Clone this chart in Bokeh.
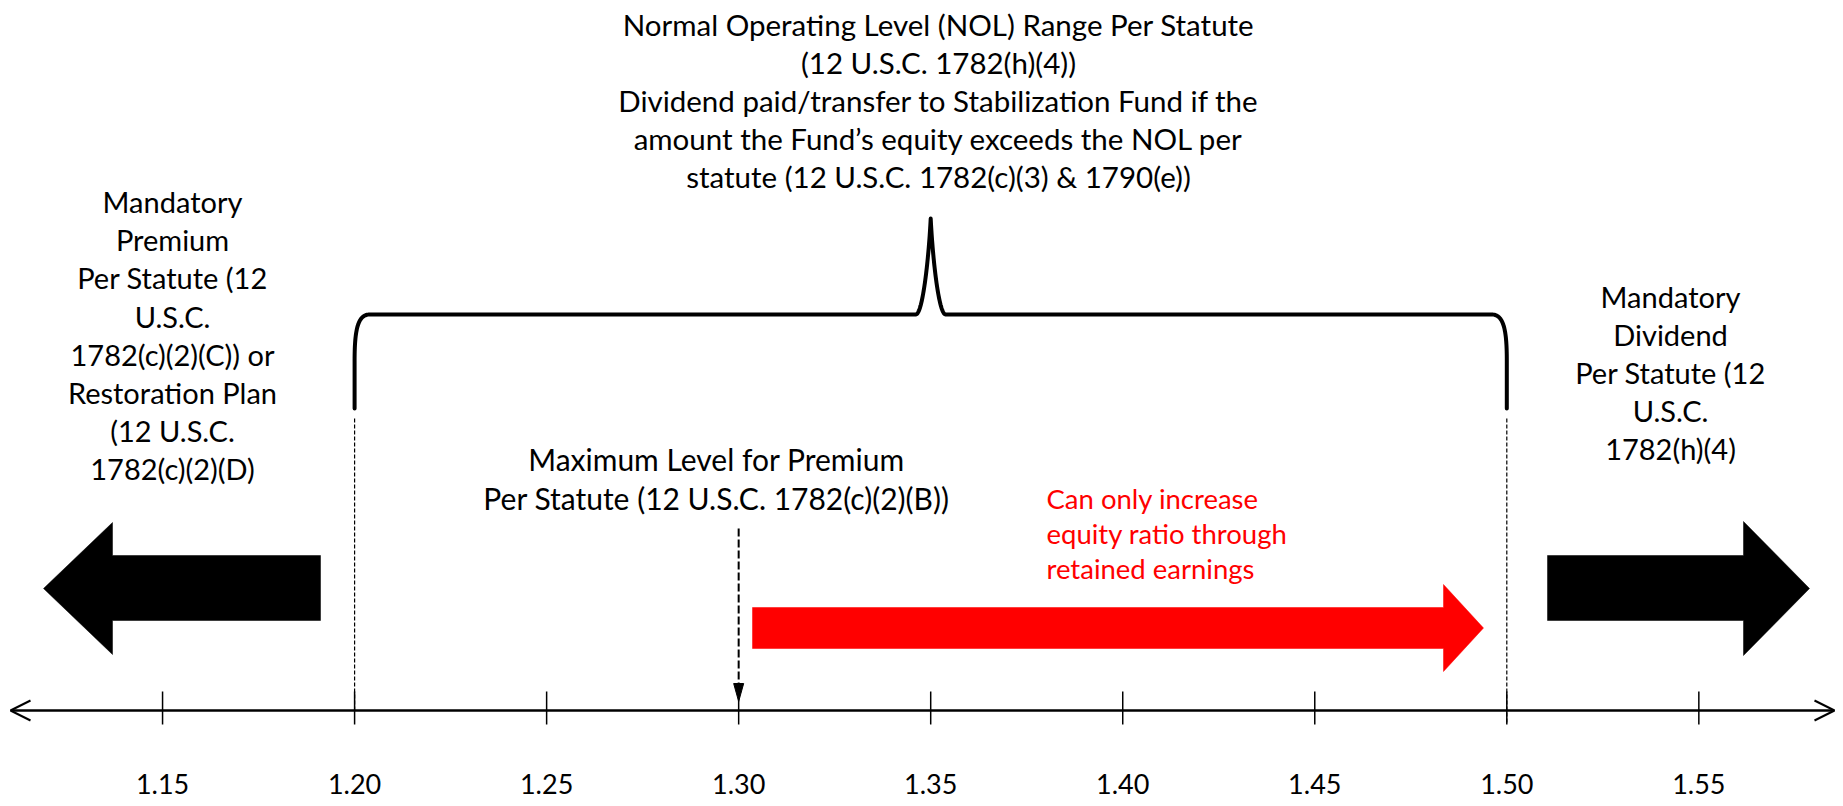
import numpy as np
from bokeh.plotting import figure
from bokeh.models import Range1d
from bokeh.embed import file_html
from bokeh.resources import INLINE
from bokeh.core.properties import value

# ---------------- data ----------------
TICK_VALUES = [1.15, 1.20, 1.25, 1.30, 1.35, 1.40, 1.45, 1.50, 1.55]
TICK_LABELS = ["1.15", "1.20", "1.25", "1.30", "1.35", "1.40", "1.45", "1.50", "1.55"]
NOL_LOW = 1.20
NOL_HIGH = 1.50
MAX_PREMIUM_LEVEL = 1.30

TOP_LINES = [
    "Normal Operating Level (NOL) Range Per Statute",
    "(12 U.S.C. 1782(h)(4))",
    "Dividend paid/transfer to Stabilization Fund if the",
    "amount the Fund\u2019s equity exceeds the NOL per",
    "statute (12 U.S.C. 1782(c)(3) & 1790(e))",
]
LEFT_LINES = [
    "Mandatory", "Premium", "Per Statute (12", "U.S.C.",
    "1782(c)(2)(C)) or", "Restoration Plan", "(12 U.S.C.", "1782(c)(2)(D)",
]
RIGHT_LINES = ["Mandatory", "Dividend", "Per Statute (12", "U.S.C.", "1782(h)(4)"]
MAX_LINES = ["Maximum Level for Premium", "Per Statute (12 U.S.C. 1782(c)(2)(B))"]
RED_LINES = ["Can only increase", "equity ratio through", "retained earnings"]

# ---------------- layout ----------------
W, H = 1843, 800
PX_PER_UNIT = 3840.7                     # horizontal scale (pixels per ratio unit)
X_START = 1.35 - 930.2 / PX_PER_UNIT
X_END = X_START + W / PX_PER_UNIT


def X(px):
    return X_START + px / PX_PER_UNIT


def DX(px):
    return px / PX_PER_UNIT


FONT = value("Lato")

p = figure(width=W, height=H, output_backend="svg", toolbar_location=None,
           x_range=Range1d(X_START, X_END), y_range=Range1d(H, 0),
           min_border=0, outline_line_color=None)
p.axis.visible = False
p.grid.visible = False
p.background_fill_color = "white"
p.border_fill_color = "white"

AXIS_Y = 710

# number line with open arrow heads
p.segment(x0=[X(11)], y0=[AXIS_Y], x1=[X(1833)], y1=[AXIS_Y], line_color="black", line_width=2.5)
p.line(x=[X(30), X(10), X(30)], y=[AXIS_Y - 10, AXIS_Y, AXIS_Y + 10], line_color="black", line_width=2)
p.line(x=[X(1814), X(1834), X(1814)], y=[AXIS_Y - 10, AXIS_Y, AXIS_Y + 10], line_color="black", line_width=2)

# ticks and labels
p.segment(x0=TICK_VALUES, y0=[AXIS_Y - 19] * len(TICK_VALUES), x1=TICK_VALUES,
          y1=[AXIS_Y + 14] * len(TICK_VALUES), line_color="black", line_width=1.5)
p.text(x=TICK_VALUES, y=[783] * len(TICK_VALUES), text=TICK_LABELS, text_font=FONT,
       text_font_size="27px", text_align="center", text_baseline="middle", text_color="black")

# dashed guides under bracket ends
p.segment(x0=[NOL_LOW, NOL_HIGH], y0=[418, 418], x1=[NOL_LOW, NOL_HIGH], y1=[AXIS_Y, AXIS_Y + 14],
          line_color="black", line_width=1.2, line_dash="4 2")


def bez(p0, p1, p2, p3, n=40):
    t = np.linspace(0, 1, n)[:, None]
    pts = ((1 - t) ** 3) * np.array(p0) + 3 * ((1 - t) ** 2) * t * np.array(p1) \
        + 3 * (1 - t) * t ** 2 * np.array(p2) + t ** 3 * np.array(p3)
    return pts[:, 0], pts[:, 1]


# bracket (offsets in pixels relative to data anchors)
x0, x1 = NOL_LOW, NOL_HIGH
mid = (x0 + x1) / 2
yb, yc, yh, ytop = 408, 360, 314, 218
bx, by = [], []


def add(xs, ys):
    bx.extend(list(xs))
    by.extend(list(ys))


add([x0, x0], [yb, yc])
cx, cy = bez((0, yc), (0, 330), (3, yh), (15, yh))
add(x0 + DX(cx), cy)
add([mid - DX(15)], [yh])
cx, cy = bez((-15, yh), (-8, yh), (-2, 258), (0, ytop))
add(mid + DX(cx), cy)
cx, cy = bez((0, ytop), (2, 258), (8, yh), (15, yh))
add(mid + DX(cx), cy)
add([x1 - DX(15)], [yh])
cx, cy = bez((-15, yh), (-3, yh), (0, 330), (0, yc))
add(x1 + DX(cx), cy)
add([x1], [yb])
p.line(x=bx, y=by, line_color="black", line_width=4, line_join="round", line_cap="round")

# dashed arrow at maximum premium level
m = MAX_PREMIUM_LEVEL
p.segment(x0=[m], y0=[528], x1=[m], y1=[688], line_color="black", line_width=2, line_dash="8 3")
p.patch(x=[m - DX(5), m + DX(5), m], y=[683, 683, 701], fill_color="black", line_color="black", line_width=1)

# red arrow
rs, rt = X(752), X(1483)
rb = rt - DX(40)
p.patch(x=[rs, rb, rb, rt, rb, rb, rs], y=[607, 607, 584, 627.5, 671, 648, 648],
        fill_color="#FF0000", line_color="#FF0000", line_width=0.5)

# black block arrows
ls, lb, lt = X(320), X(112), X(43)
p.patch(x=[ls, lb, lb, lt, lb, lb, ls], y=[555, 555, 522, 588, 654, 620, 620],
        fill_color="black", line_color="black", line_width=0.5)
rs2, rb2, rt2 = X(1547), X(1743), X(1809)
p.patch(x=[rs2, rb2, rb2, rt2, rb2, rb2, rs2], y=[555, 555, 521, 588, 655, 620, 620],
        fill_color="black", line_color="black", line_width=0.5)


def text_block(lines, xpos, y_first, spacing, size, align="center", color="black"):
    ys = [y_first + i * spacing for i in range(len(lines))]
    p.text(x=[xpos] * len(lines), y=ys, text=lines, text_font=FONT, text_font_size=size,
           text_align=align, text_baseline="middle", text_color=color)


text_block(TOP_LINES, X(938), 24, 38, "29.5px")
text_block(LEFT_LINES, X(172), 201, 38.2, "29px")
text_block(RIGHT_LINES, X(1670), 296, 38, "29px")
text_block(MAX_LINES, X(716), 458, 39, "30px")
text_block(RED_LINES, X(1046), 498, 35, "27.5px", align="left", color="#FF0000")

open("out.html", "w").write(file_html(p, INLINE))
